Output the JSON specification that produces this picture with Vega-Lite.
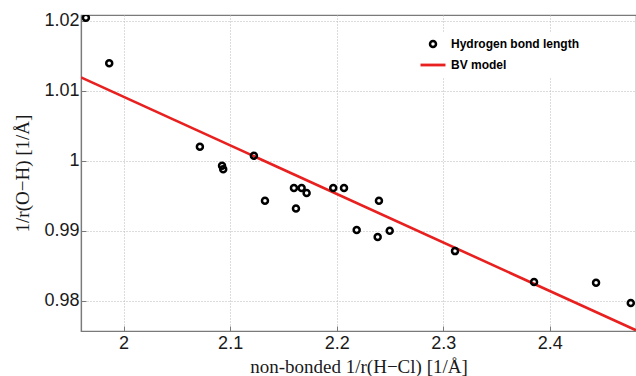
{
  "$schema": "https://vega.github.io/schema/vega-lite/v6.json",
  "width": 555,
  "height": 316,
  "autosize": {"type": "none"},
  "padding": {"left": 81, "top": 15, "right": 0, "bottom": 45},
  "background": "white",
  "config": {
    "view": {"stroke": "#7a7a7a", "strokeWidth": 1.2},
    "axis": {
      "domainColor": "#7a7a7a",
      "domainWidth": 1.2,
      "tickColor": "#7a7a7a",
      "tickSize": -5,
      "gridColor": "#b8b8b8",
      "gridDash": [1, 2],
      "gridWidth": 1,
      "labelFont": "Liberation Sans",
      "labelFontSize": 18,
      "labelColor": "#1a1a1a",
      "titleFont": "Liberation Serif",
      "titleFontWeight": "normal",
      "titleFontSize": 19,
      "titleColor": "#1a1a1a"
    },
    "legend": {
      "title": null,
      "orient": "none",
      "legendX": 340,
      "legendY": 17,
      "fillColor": "white",
      "padding": 6,
      "rowPadding": 7,
      "symbolStrokeWidth": 2.6,
      "labelFont": "Liberation Sans",
      "labelFontWeight": "bold",
      "labelFontSize": 12,
      "labelColor": "#000000",
      "labelOffset": 12
    }
  },
  "datasets": {
    "bonds": [
      {"inv_r_hcl": 1.9646, "inv_r_oh": 1.0204, "series": "Hydrogen bond length"},
      {"inv_r_hcl": 1.9865, "inv_r_oh": 1.0139, "series": "Hydrogen bond length"},
      {"inv_r_hcl": 2.0716, "inv_r_oh": 1.0020, "series": "Hydrogen bond length"},
      {"inv_r_hcl": 2.0924, "inv_r_oh": 0.9993, "series": "Hydrogen bond length"},
      {"inv_r_hcl": 2.0935, "inv_r_oh": 0.9988, "series": "Hydrogen bond length"},
      {"inv_r_hcl": 2.1223, "inv_r_oh": 1.0007, "series": "Hydrogen bond length"},
      {"inv_r_hcl": 2.1327, "inv_r_oh": 0.9943, "series": "Hydrogen bond length"},
      {"inv_r_hcl": 2.1599, "inv_r_oh": 0.9961, "series": "Hydrogen bond length"},
      {"inv_r_hcl": 2.1618, "inv_r_oh": 0.9932, "series": "Hydrogen bond length"},
      {"inv_r_hcl": 2.1671, "inv_r_oh": 0.9961, "series": "Hydrogen bond length"},
      {"inv_r_hcl": 2.1718, "inv_r_oh": 0.9954, "series": "Hydrogen bond length"},
      {"inv_r_hcl": 2.1968, "inv_r_oh": 0.9961, "series": "Hydrogen bond length"},
      {"inv_r_hcl": 2.2069, "inv_r_oh": 0.9961, "series": "Hydrogen bond length"},
      {"inv_r_hcl": 2.2188, "inv_r_oh": 0.9901, "series": "Hydrogen bond length"},
      {"inv_r_hcl": 2.2385, "inv_r_oh": 0.9891, "series": "Hydrogen bond length"},
      {"inv_r_hcl": 2.2397, "inv_r_oh": 0.9943, "series": "Hydrogen bond length"},
      {"inv_r_hcl": 2.2498, "inv_r_oh": 0.9900, "series": "Hydrogen bond length"},
      {"inv_r_hcl": 2.3111, "inv_r_oh": 0.9871, "series": "Hydrogen bond length"},
      {"inv_r_hcl": 2.3853, "inv_r_oh": 0.9827, "series": "Hydrogen bond length"},
      {"inv_r_hcl": 2.4435, "inv_r_oh": 0.9826, "series": "Hydrogen bond length"},
      {"inv_r_hcl": 2.4761, "inv_r_oh": 0.9797, "series": "Hydrogen bond length"}
    ],
    "model": [
      {"inv_r_hcl": 1.960, "inv_r_oh": 1.0119, "series": "BV model"},
      {"inv_r_hcl": 2.481, "inv_r_oh": 0.9758, "series": "BV model"}
    ]
  },
  "encoding": {
    "x": {
      "field": "inv_r_hcl", "type": "quantitative",
      "scale": {"domain": [1.96, 2.481], "nice": false, "zero": false},
      "axis": {
        "values": [2, 2.1, 2.2, 2.3, 2.4],
        "format": "~g",
        "labelPadding": 8,
        "title": "non-bonded 1/r(H−Cl) [1/Å]",
        "titlePadding": 5
      }
    },
    "y": {
      "field": "inv_r_oh", "type": "quantitative",
      "scale": {"domain": [0.9757, 1.0208], "nice": false, "zero": false},
      "axis": {
        "values": [0.98, 0.99, 1, 1.01, 1.02],
        "format": "~g",
        "labelPadding": 7,
        "title": "1/r(O−H) [1/Å]",
        "titlePadding": 11
      }
    },
    "color": {
      "field": "series", "type": "nominal",
      "scale": {"domain": ["Hydrogen bond length", "BV model"], "range": ["#000000", "#e8201f"]},
      "legend": {
        "encode": {
          "symbols": {
            "update": {
              "shape": {"signal": "datum.value === 'BV model' ? 'stroke' : 'circle'"},
              "size": {"signal": "datum.value === 'BV model' ? 625 : 36"},
              "strokeWidth": {"signal": "datum.value === 'BV model' ? 2.8 : 2.5"},
              "fill": {"value": "transparent"}
            }
          }
        }
      }
    }
  },
  "layer": [
    {
      "data": {"name": "model"},
      "mark": {"type": "line", "strokeWidth": 2.6, "clip": true}
    },
    {
      "data": {"name": "bonds"},
      "mark": {"type": "point", "filled": false, "size": 36, "strokeWidth": 2.5, "opacity": 1, "clip": true}
    }
  ]
}
